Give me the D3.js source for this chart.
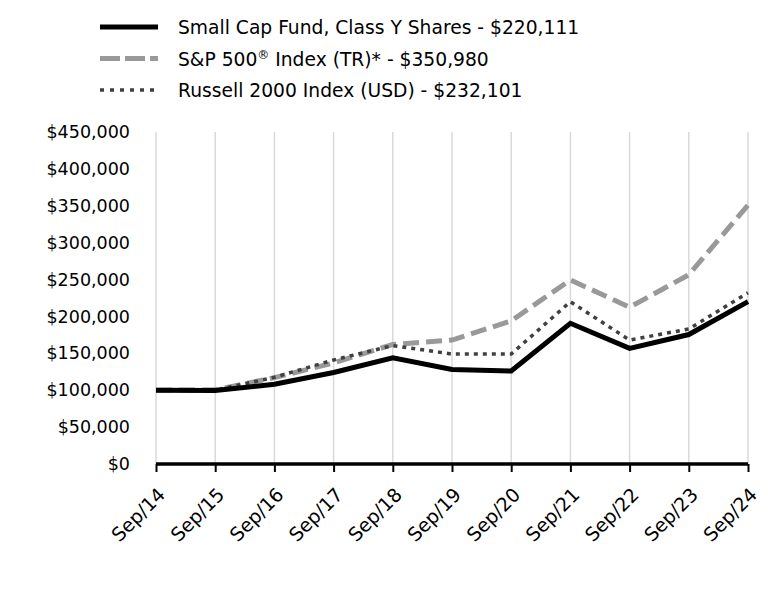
<!DOCTYPE html>
<html><head><meta charset="utf-8">
<script src="https://cdn.jsdelivr.net/npm/d3@7"></script>
<style>body{margin:0;background:#fff}</style>
</head><body>
<svg id="chart" width="768" height="612"></svg>
<script>
const years = ["Sep/14","Sep/15","Sep/16","Sep/17","Sep/18","Sep/19","Sep/20","Sep/21","Sep/22","Sep/23","Sep/24"];
const fundValues = [100000, 99500, 108000, 124000, 144000, 128000, 126000, 190700, 156800, 175500, 220111];
const spValues = [100000, 100500, 117000, 137000, 162000, 168000, 194000, 249500, 212500, 256500, 350980];
const russellValues = [100000, 100200, 117500, 141000, 160500, 149000, 149000, 220000, 168000, 183000, 232101];
const yTicks = [0,50000,100000,150000,200000,250000,300000,350000,400000,450000];
const legendLabels = ["Small Cap Fund, Class Y Shares - $220,111", "S&P 500® Index (TR)* - $350,980", "Russell 2000 Index (USD) - $232,101"];

const svg = d3.select("#chart");
const font = "'DejaVu Sans', sans-serif";
const pLeft = 156, pRight = 748, pTop = 132, pBottom = 464;
const x = d3.scalePoint().domain(years).range([pLeft, pRight]);
const y = d3.scaleLinear().domain([0, 450000]).range([pBottom, pTop]);

// vertical gridlines
svg.append("g").selectAll("line").data(years).join("line")
  .attr("x1", d => x(d)).attr("x2", d => x(d))
  .attr("y1", pTop).attr("y2", pBottom)
  .attr("stroke", "#d9d9d9").attr("stroke-width", 1.5);

// y axis labels
const yAxis = d3.axisLeft(y).tickValues(yTicks).tickSize(0).tickPadding(26)
  .tickFormat(d => "$" + d3.format(",")(d));
const gy = svg.append("g").attr("transform", `translate(${pLeft},0)`).call(yAxis);
gy.select(".domain").remove();
gy.selectAll("text").attr("font-family", font).attr("font-size", 17.5).attr("fill", "#000");

// series
const series = [
  {vals: spValues, color: "#999999", width: 5, dash: "16,7"},
  {vals: russellValues, color: "#404040", width: 3.5, dash: "4,5"},
  {vals: fundValues, color: "#000000", width: 5, dash: null}
];
const line = d3.line().x((d,i) => x(years[i])).y(d => y(d));
series.forEach(s => {
  svg.append("path").datum(s.vals).attr("d", line)
    .attr("fill", "none").attr("stroke", s.color).attr("stroke-width", s.width)
    .attr("stroke-dasharray", s.dash).attr("stroke-linejoin", "miter");
});

// x axis
const xAxis = d3.axisBottom(x).tickSize(8).tickPadding(6);
const gx = svg.append("g").attr("transform", `translate(0,${pBottom})`).call(xAxis);
gx.select(".domain").attr("stroke", "#000").attr("stroke-width", 3.5).attr("d", `M${pLeft},0H${pRight}`);
gx.selectAll(".tick line").attr("stroke", "#000").attr("stroke-width", 2);
gx.selectAll("text").attr("font-family", font).attr("font-size", 19).attr("fill", "#000")
  .attr("text-anchor", "end").attr("dy", 0)
  .attr("transform", "translate(0,22) rotate(-45)");

// legend
const legendStyles = [
  {color: "#000", width: 5, dash: null},
  {color: "#999999", width: 5, dash: "20,5"},
  {color: "#404040", width: 3.5, dash: "4,6"}
];
const lg = svg.append("g");
legendLabels.forEach((lab, i) => {
  const ly = 27 + i * 31.5;
  lg.append("line").attr("x1", 100).attr("x2", 158).attr("y1", ly).attr("y2", ly)
    .attr("stroke", legendStyles[i].color).attr("stroke-width", legendStyles[i].width)
    .attr("stroke-dasharray", legendStyles[i].dash);
  const t = lg.append("text").attr("x", 178).attr("y", ly + 7)
    .attr("font-family", font).attr("font-size", 18.7).attr("fill", "#000");
  if (lab.includes("®")) {
    const parts = lab.split("®");
    t.append("tspan").text(parts[0]);
    t.append("tspan").text("®").attr("font-size", 12).attr("dy", -7);
    t.append("tspan").text(parts[1]).attr("dy", 7);
  } else {
    t.text(lab);
  }
});
</script>
</body></html>
